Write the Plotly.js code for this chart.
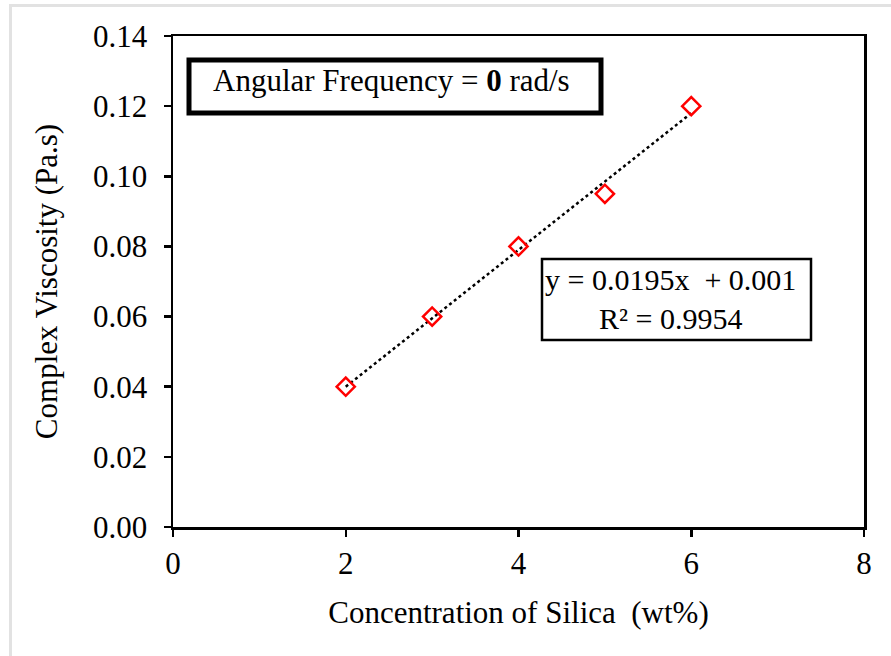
<!DOCTYPE html>
<html>
<head>
<meta charset="utf-8">
<script src="https://cdn.plot.ly/plotly-3.0.1.min.js"></script>
<style>
  html, body { margin: 0; padding: 0; background: #fff; }
  #wrap { position: relative; width: 891px; height: 656px; overflow: hidden; }
  #chart { position: absolute; left: 0; top: 0; width: 891px; height: 656px; }
  #frame { position: absolute; left: 9px; top: 4px; width: 900px; height: 700px;
           border-left: 3px solid #e2e2e2; border-top: 3px solid #e2e2e2; pointer-events: none; }
</style>
</head>
<body>
<div id="wrap">
  <div id="chart"></div>
  <div id="frame"></div>
</div>
<script>
// Data
const silica = [2, 3, 4, 5, 6];                       // wt%
const viscosity = [0.040, 0.060, 0.080, 0.095, 0.120]; // Pa.s
const xTicks = [0, 2, 4, 6, 8];
const yTicks = [0, 0.02, 0.04, 0.06, 0.08, 0.10, 0.12, 0.14];
const frequencyLabel = 'Angular Frequency = <b>0</b> rad/s';

// Linear least-squares trendline from the data
const n = silica.length;
const mx = silica.reduce((a, b) => a + b, 0) / n;
const my = viscosity.reduce((a, b) => a + b, 0) / n;
let sxy = 0, sxx = 0, syy = 0;
for (let i = 0; i < n; i++) {
  sxy += (silica[i] - mx) * (viscosity[i] - my);
  sxx += (silica[i] - mx) ** 2;
  syy += (viscosity[i] - my) ** 2;
}
const slope = sxy / sxx;
const intercept = my - slope * mx;
const r2 = (sxy * sxy) / (sxx * syy);
const xFit = [Math.min(...silica), Math.max(...silica)];
const yFit = xFit.map(x => slope * x + intercept);
const eqText = 'y = ' + slope.toFixed(4) + 'x  + ' + intercept.toFixed(3) + '<br>R² = ' + r2.toFixed(4);

const FONT = 'Liberation Serif, Times New Roman, serif';

const traces = [
  {
    x: xFit, y: yFit, mode: 'lines', type: 'scatter',
    line: { color: '#000', width: 2.5, dash: 'dot' },
    hoverinfo: 'skip', showlegend: false
  },
  {
    x: silica, y: viscosity, mode: 'markers', type: 'scatter',
    marker: { symbol: 'diamond-open', size: 14, color: '#ff0000', line: { color: '#ff0000', width: 2.5 } },
    showlegend: false
  }
];

const axisCommon = {
  showline: true, linecolor: '#000', linewidth: 2.5, mirror: true,
  ticks: 'outside', ticklen: 7, tickwidth: 2.5, tickcolor: '#000',
  showgrid: false, zeroline: false,
  tickfont: { family: FONT, size: 31, color: '#000' }
};

const layout = {
  width: 891, height: 656,
  margin: { l: 173, r: 27, t: 36, b: 129 },
  paper_bgcolor: '#fff', plot_bgcolor: '#fff',
  font: { family: FONT, color: '#000', size: 31 },
  xaxis: Object.assign({}, axisCommon, {
    range: [0, 8], tickvals: xTicks, ticktext: xTicks.map(String),
    title: { text: 'Concentration of Silica  (wt%)', font: { family: FONT, size: 31, color: '#000' }, standoff: 22 }
  }),
  yaxis: Object.assign({}, axisCommon, {
    range: [0, 0.14], tickvals: yTicks, ticktext: yTicks.map(v => v.toFixed(2)),
    ticklabelstandoff: 10,
    title: { text: 'Complex Viscosity (Pa.s)', font: { family: FONT, size: 31, color: '#000' }, standoff: 26 }
  }),
  shapes: [
    { type: 'rect', xref: 'paper', yref: 'paper',
      x0: (189 - 173) / 691, x1: (601 - 173) / 691,
      y0: (527 - 113) / 491, y1: (527 - 60) / 491,
      line: { color: '#000', width: 5 }, fillcolor: '#fff', layer: 'above' },
    { type: 'rect', xref: 'paper', yref: 'paper',
      x0: (542 - 173) / 691, x1: (811 - 173) / 691,
      y0: (527 - 340) / 491, y1: (527 - 259) / 491,
      line: { color: '#000', width: 2.5 }, fillcolor: '#fff', layer: 'above' }
  ],
  annotations: [
    { xref: 'paper', yref: 'paper', x: (391 - 173) / 691, y: (527 - 80) / 491,
      xanchor: 'center', yanchor: 'middle', showarrow: false,
      text: frequencyLabel, font: { family: FONT, size: 31, color: '#000' } },
    { xref: 'paper', yref: 'paper', x: (670 - 173) / 691, y: (527 - 299) / 491,
      xanchor: 'center', yanchor: 'middle', showarrow: false, align: 'center',
      text: eqText, font: { family: FONT, size: 30, color: '#000' } }
  ]
};

Plotly.newPlot('chart', traces, layout, { displayModeBar: false, staticPlot: true });
</script>
</body>
</html>
